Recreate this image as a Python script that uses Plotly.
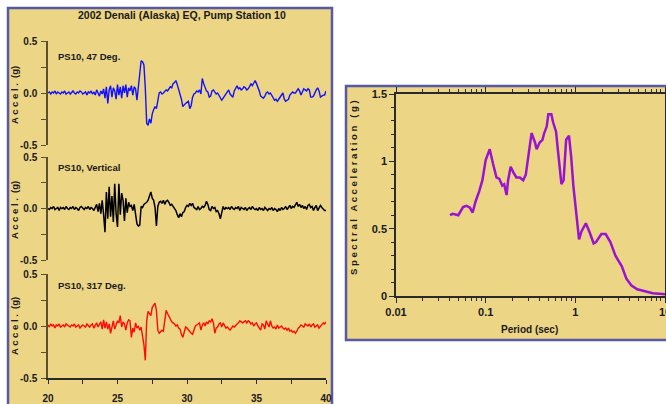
import numpy as np
import plotly.graph_objects as go

# ---------------- data ----------------
T_START = 20.0
T_STEP = 0.1

acc_47deg = [
    0.00, 0.01, -0.01, 0.01, 0.00, 0.02, -0.01, 0.01, 0.00, -0.01,
    0.01, 0.00, 0.02, -0.01, 0.00, 0.01, -0.01, 0.01, 0.02, 0.00,
    -0.01, 0.01, 0.00, 0.02, 0.01, -0.01, 0.00, 0.01, -0.02, 0.01,
    0.00, 0.02, -0.01, 0.01, -0.02, 0.03, 0.00, -0.03, 0.02, -0.01,
    0.04, -0.05, 0.06, -0.10, 0.03, 0.07, -0.04, 0.05, 0.02, -0.06,
    0.08, -0.02, 0.06, -0.05, 0.07, 0.00, 0.08, -0.04, 0.05, 0.02,
    0.07, -0.02, 0.06, 0.04, -0.07, 0.08, 0.22, 0.31, 0.30, 0.27,
    0.05, -0.29, -0.31, -0.25, -0.29, -0.20, -0.16, -0.13, -0.15, -0.06,
    0.00, 0.01, -0.01, 0.00, 0.02, 0.03, 0.02, 0.04, 0.06, 0.05,
    0.09, 0.10, 0.12, 0.08, 0.04, -0.02, -0.06, -0.13, -0.11, -0.10,
    -0.09, -0.08, -0.15, -0.12, -0.04, -0.01, 0.00, 0.02, 0.01, 0.03,
    -0.01, 0.14, 0.09, 0.05, 0.02, 0.01, -0.04, -0.03, 0.02, 0.03,
    0.01, -0.01, 0.00, -0.02, -0.04, -0.07, -0.05, -0.03, 0.00, 0.02,
    0.03, -0.01, -0.03, -0.04, 0.02, 0.05, 0.07, 0.04, 0.05, 0.03,
    0.04, 0.06, 0.05, 0.03, 0.04, 0.06, 0.09, 0.07, 0.10, 0.12,
    0.09, 0.06, 0.02, -0.03, -0.04, -0.05, -0.03, 0.00, 0.01, -0.01,
    0.00, -0.02, -0.05, -0.07, -0.06, -0.08, -0.06, -0.04, -0.01, 0.00,
    -0.06, -0.08, -0.07, -0.06, -0.02, 0.00, 0.01, 0.00, 0.00, 0.02,
    0.04, 0.02, -0.02, 0.01, 0.04, 0.03, 0.02, 0.04, 0.03, -0.04,
    -0.04, -0.03, 0.01, 0.03, 0.05, 0.02, -0.04, -0.03, -0.02, -0.02,
    0.02,
]

acc_vertical = [
    0.00, -0.01, 0.01, 0.00, 0.02, -0.01, 0.00, 0.01, -0.02, 0.01,
    0.00, 0.01, -0.01, 0.02, 0.00, -0.01, 0.01, 0.00, 0.02, -0.01,
    0.01, 0.00, -0.02, 0.01, 0.02, 0.00, -0.01, 0.01, 0.00, 0.02,
    -0.01, 0.01, 0.00, -0.02, 0.02, 0.04, -0.03, 0.05, -0.05, 0.08,
    -0.06, -0.23, 0.16, -0.10, 0.21, -0.08, 0.12, -0.13, 0.24, -0.05,
    -0.18, 0.24, -0.06, 0.15, 0.08, -0.12, 0.10, -0.04, 0.06, 0.02,
    0.03, -0.02, 0.04, -0.06, -0.15, -0.17, -0.16, 0.02, 0.01, 0.04,
    0.05, 0.06, 0.08, 0.12, 0.16, 0.10, 0.08, 0.01, -0.17, 0.02,
    0.06, 0.07, 0.05, 0.08, 0.04, 0.07, 0.08, 0.06, 0.03, 0.04,
    0.02, 0.00, -0.02, -0.06, -0.09, -0.05, -0.08, -0.04, -0.03, 0.01,
    0.03, 0.02, 0.05, 0.03, 0.05, 0.01, 0.00, -0.01, 0.02, -0.01,
    0.00, 0.02, 0.01, 0.03, 0.07, 0.04, -0.01, -0.02, 0.02, 0.00,
    0.01, -0.03, -0.02, -0.05, -0.10, -0.04, 0.02, -0.01, 0.01, 0.00,
    0.01, -0.01, 0.02, 0.00, -0.01, 0.01, 0.00, 0.02, -0.02, 0.01,
    0.00, -0.01, 0.01, -0.02, 0.00, 0.01, -0.01, 0.02, 0.00, -0.01,
    0.00, -0.02, 0.01, -0.01, 0.00, -0.02, 0.01, -0.01, -0.02, 0.00,
    -0.01, 0.01, -0.02, 0.00, -0.01, -0.03, 0.00, -0.02, 0.01, -0.01,
    0.00, 0.02, -0.01, 0.01, 0.03, 0.00, 0.02, 0.01, 0.04, 0.06,
    0.02, 0.04, 0.01, 0.03, 0.00, 0.02, -0.01, 0.03, 0.04, 0.01,
    0.02, -0.02, 0.01, 0.03, -0.02, 0.00, 0.03, 0.01, -0.01, -0.02,
    -0.02,
]

acc_317deg = [
    0.01, -0.01, 0.02, 0.00, 0.01, -0.02, 0.01, 0.00, 0.02, -0.01,
    0.00, 0.01, -0.01, 0.02, 0.01, 0.00, -0.01, 0.01, 0.00, 0.02,
    -0.01, 0.00, 0.01, -0.02, 0.00, 0.01, 0.00, -0.01, 0.02, 0.00,
    -0.01, 0.01, 0.02, -0.02, 0.01, 0.03, -0.01, 0.02, 0.04, -0.03,
    0.06, -0.02, 0.04, -0.03, 0.02, -0.07, 0.01, 0.05, -0.03, 0.02,
    0.05, 0.03, 0.10, -0.01, 0.04, 0.02, -0.04, 0.03, 0.06, 0.05,
    -0.11, -0.02, -0.06, 0.03, -0.02, 0.00, -0.04, -0.01, -0.10, -0.18,
    -0.33, 0.05, 0.14, 0.12, 0.10, 0.18, 0.20, 0.22, 0.15, -0.04,
    -0.07, -0.05, -0.04, -0.05, 0.08, 0.15, 0.12, 0.09, 0.07, 0.04,
    0.03, 0.02, 0.00, 0.01, -0.02, -0.03, -0.08, -0.11, -0.06, -0.01,
    -0.02, -0.04, -0.05, -0.07, -0.08, -0.03, 0.00, 0.01, 0.02, 0.03,
    -0.04, 0.01, 0.03, 0.00, 0.04, 0.02, 0.05, 0.04, 0.07, 0.03,
    -0.07, -0.02, -0.01, 0.02, 0.03, -0.01, 0.03, 0.00, -0.02, -0.01,
    -0.03, -0.04, -0.02, 0.00, -0.01, 0.01, 0.02, 0.03, 0.05, 0.04,
    0.03, 0.04, 0.05, 0.03, 0.05, 0.04, 0.02, 0.03, 0.00, 0.02,
    0.03, 0.00, -0.02, -0.04, 0.02, 0.01, -0.03, 0.05, 0.02, -0.01,
    0.05, 0.00, -0.02, -0.01, -0.03, 0.01, -0.02, -0.01, 0.00, -0.02,
    -0.03, -0.02, -0.04, -0.02, -0.05, -0.04, -0.06, -0.05, -0.07, -0.05,
    -0.02, -0.01, 0.01, 0.00, -0.01, 0.02, 0.01, 0.00, 0.02, -0.01,
    0.01, 0.02, -0.01, 0.00, 0.01, -0.02, 0.00, 0.01, 0.03, 0.02,
    0.04,
]

period = [0.04, 0.043, 0.0495, 0.056, 0.061, 0.0668, 0.0716, 0.077, 0.085, 0.092,
          0.1, 0.111, 0.121, 0.132, 0.142, 0.153, 0.161, 0.171, 0.178, 0.19,
          0.203, 0.22, 0.24, 0.262, 0.28, 0.3, 0.325, 0.355, 0.37, 0.4,
          0.43, 0.45, 0.48, 0.5, 0.54, 0.565, 0.61, 0.64, 0.70, 0.74,
          0.79, 0.85, 0.90, 0.95, 1.0, 1.05, 1.1, 1.17, 1.31, 1.45,
          1.6, 1.7, 1.95, 2.18, 2.46, 2.8, 3.3, 3.7, 4.2, 4.9,
          5.7, 7.3, 9.4, 10.0]
spectral_acc = [0.60, 0.61, 0.60, 0.66, 0.67, 0.655, 0.62, 0.70, 0.78, 0.86,
                1.01, 1.09, 0.98, 0.88, 0.87, 0.82, 0.83, 0.75, 0.86, 0.96,
                0.92, 0.88, 0.88, 0.86, 0.90, 1.06, 1.21, 1.14, 1.09, 1.14,
                1.16, 1.21, 1.26, 1.35, 1.35, 1.29, 1.22, 1.08, 0.83, 0.86,
                1.16, 1.19, 1.03, 0.82, 0.66, 0.55, 0.42, 0.48, 0.54, 0.47,
                0.39, 0.40, 0.46, 0.46, 0.40, 0.30, 0.22, 0.13, 0.08, 0.05,
                0.04, 0.02, 0.015, 0.012]

title_text = "2002 Denali (Alaska) EQ, Pump Station 10"
panel_labels = ["PS10, 47 Deg.", "PS10, Vertical", "PS10, 317 Deg."]
y_ticks_left = [-0.5, 0.0, 0.5]
y_ticktext_left = ["-0.5", "0.0", "0.5"]

time = T_START + T_STEP * np.arange(len(acc_47deg))

# ---------------- style ----------------
W, H = 666, 404
FONT = "Liberation Sans, Arial, sans-serif"
PANEL_FILL = "#ECD585"
PANEL_EDGE = "#5659A3"
AX = "#2a2a2a"
TXT = "#1a1a1a"

def px(x):
    return x / W

def py(y):
    return 1 - y / H

fig = go.Figure()
fig.add_trace(go.Scatter(x=time, y=acc_47deg, mode="lines", line=dict(color="#1010ff", width=1.4),
                         xaxis="x", yaxis="y", showlegend=False))
fig.add_trace(go.Scatter(x=time, y=acc_vertical, mode="lines", line=dict(color="#000000", width=1.5),
                         xaxis="x", yaxis="y2", showlegend=False))
fig.add_trace(go.Scatter(x=time, y=acc_317deg, mode="lines", line=dict(color="#ff0a0a", width=1.4),
                         xaxis="x", yaxis="y3", showlegend=False))
fig.add_trace(go.Scatter(x=period, y=spectral_acc, mode="lines", line=dict(color="#9A12D2", width=2.5),
                         xaxis="x2", yaxis="y4", showlegend=False))

tf_left = dict(family=FONT, size=10, color=TXT, weight="bold")
tf_right = dict(family=FONT, size=11, color=TXT, weight="bold")

left_y = dict(range=[-0.5, 0.5], tickvals=y_ticks_left, ticktext=y_ticktext_left,
              ticks="outside", ticklen=5, tickwidth=1, tickcolor="#5a5030",
              showline=True, linecolor="#5a5030", linewidth=1.5,
              showgrid=False, zeroline=False, anchor="x", tickfont=tf_left, automargin=False,
              ticklabelstandoff=2,
              minor=dict(tickvals=[-0.25, 0.25], ticks="outside", ticklen=5, tickcolor="#5a5030"),
              fixedrange=True)

xl0, xl1 = px(48), px(326)
fig.update_layout(
    width=W, height=H, autosize=False,
    margin=dict(l=0, r=0, t=0, b=0),
    paper_bgcolor="white", plot_bgcolor="rgba(0,0,0,0)",
    font=dict(family=FONT, color=TXT),
    xaxis=dict(domain=[xl0, xl1], range=[20, 40], dtick=5, tick0=20, anchor="y3",
               ticks="outside", ticklen=4, tickcolor=AX, showline=True, linecolor=AX, linewidth=1.5,
               showgrid=False, zeroline=False, tickfont=tf_left, automargin=False,
               ticklabelstandoff=6, ticklabeloverflow="allow",
               minor=dict(dtick=2.5, ticks="outside", ticklen=4, tickcolor=AX)),
    yaxis=dict(domain=[py(145), py(41)], **left_y),
    yaxis2=dict(domain=[py(260), py(157)], **left_y),
    yaxis3=dict(domain=[py(378), py(274)], **left_y),
    xaxis2=dict(domain=[px(396), px(665)], type="log", range=[-2, 1], dtick=1, anchor="y4",
                ticks="outside", ticklen=5, tickcolor=AX, showline=True, linecolor=AX, linewidth=1.5,
                mirror="ticks", showgrid=False, zeroline=False, tickfont=tf_right, automargin=False,
                ticklabeloverflow="allow",
                minor=dict(dtick="D1", ticks="outside", ticklen=3, tickcolor=AX)),
    yaxis4=dict(domain=[py(296), py(94)], range=[0, 1.5], dtick=0.5, anchor="x2",
                ticks="outside", ticklen=5, tickcolor=AX, showline=True, linecolor=AX, linewidth=1.5,
                mirror="ticks", showgrid=False, zeroline=False, tickfont=tf_right, automargin=False,
                minor=dict(dtick=0.1, ticks="outside", ticklen=3, tickcolor=AX)),
)

# panel backgrounds
fig.add_shape(type="rect", xref="paper", yref="paper", x0=px(8), x1=px(332), y0=-0.05, y1=py(8),
              fillcolor=PANEL_FILL, line=dict(color=PANEL_EDGE, width=2.5), layer="below")
fig.add_shape(type="rect", xref="paper", yref="paper", x0=px(346), x1=1.05, y0=py(340), y1=py(86),
              fillcolor=PANEL_FILL, line=dict(color=PANEL_EDGE, width=2.5), layer="below")

ann_font = dict(family=FONT, size=9.5, color=TXT)
anns = [
    dict(x=px(182), y=py(15), text="<b>" + title_text + "</b>", font=dict(family=FONT, size=10.5, color=TXT)),
    dict(x=px(56), y=py(56), text="<b>" + panel_labels[0] + "</b>", xanchor="left", font=ann_font),
    dict(x=px(56), y=py(168), text="<b>" + panel_labels[1] + "</b>", xanchor="left", font=ann_font),
    dict(x=px(56), y=py(285), text="<b>" + panel_labels[2] + "</b>", xanchor="left", font=ann_font),
    dict(x=px(529), y=py(329), text="<b>Period (sec)</b>", font=dict(family=FONT, size=10, color=TXT)),
]
accel_lbl = "<b>A c c e l .  (g)</b>"
for yc in (95, 210, 326):
    anns.append(dict(x=px(14), y=py(yc), text=accel_lbl, textangle=-90, font=dict(family=FONT, size=9.5, color=TXT)))
anns.append(dict(x=px(353), y=py(188), text="<b>S p e c t r a l   A c c e l e r a t i o n   ( g )</b>",
                 textangle=-90, font=dict(family=FONT, size=9.5, color=TXT)))
for a in anns:
    a.setdefault("xanchor", "center")
    a.update(xref="paper", yref="paper", showarrow=False, yanchor="middle")
fig.update_layout(annotations=anns)

fig.write_html("out.html")
